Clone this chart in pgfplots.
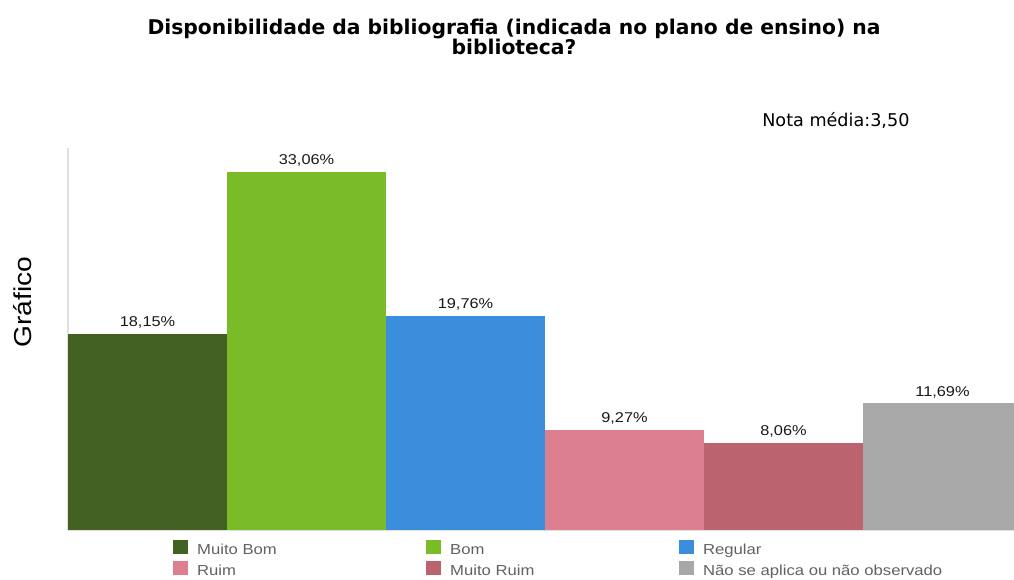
\documentclass[border=0pt]{standalone}
\usepackage{fontspec}
\setmainfont{Liberation Sans}[FakeStretch=1.15]
\newfontfamily\titlefont{DejaVu Sans}
\usepackage{pgfplots}
\pgfplotsset{compat=1.18}
\definecolor{cMB}{RGB}{67,97,34}
\definecolor{cB}{RGB}{121,188,40}
\definecolor{cR}{RGB}{58,142,219}
\definecolor{cRu}{RGB}{220,128,144}
\definecolor{cMR}{RGB}{187,99,111}
\definecolor{cNA}{RGB}{168,168,168}
\begin{document}
\begin{tikzpicture}[x=1pt,y=1pt]
\useasboundingbox (0,0) rectangle (1014,579);
\node[font=\titlefont\bfseries\fontsize{20.3}{17}\selectfont, align=center] at (514,542) {Disponibilidade da bibliografia (indicada no plano de ensino) na\\biblioteca?};
\node[font=\titlefont\fontsize{17.6}{17}\selectfont, anchor=base east] at (913,452) {Nota média:3,50};
\node[font=\fontsize{24.5}{25}\selectfont, rotate=90] at (23,277) {Gráfico};
\begin{axis}[
  at={(68pt,49pt)}, anchor=south west, scale only axis,
  width=954pt, height=382pt,
  ymin=0, ymax=35.3, xmin=-0.5, xmax=5.5,
  axis x line=bottom, axis y line=left,
  axis line style={-, draw=black!12, line width=1.5pt},
  xtick=\empty, ytick=\empty,
  ybar, bar width=1, bar shift=0pt,
  /pgf/number format/assume math mode=true,
  nodes near coords={\pgfmathprintnumber[fixed,fixed zerofill,precision=2,use comma]{\pgfplotspointmeta}\%},
  every node near coord/.append style={font=\fontsize{14.2}{14}\selectfont, text=black!90, yshift=2pt},
  legend columns=3,
  legend style={at={(axis description cs:0.110,-0.026)}, anchor=north west, draw=none, fill=none,
    font=\fontsize{14.5}{14}\selectfont, text=black!62, inner sep=0pt, row sep=3pt,
    nodes={inner sep=0pt, text height=10.5pt, text depth=3.5pt},
    /tikz/every odd column/.append style={column sep=9pt},
    /tikz/every even column/.append style={column sep=0pt}},
  legend cell align=left,
  legend image code/.code={\fill[#1,draw=none] (0pt,-3pt) rectangle (15pt,11pt);},
]
\addplot[fill=cMB, draw=none] coordinates {(0,18.15)};
\addplot[fill=cB, draw=none] coordinates {(1,33.06)};
\addplot[fill=cR, draw=none] coordinates {(2,19.76)};
\addplot[fill=cRu, draw=none] coordinates {(3,9.27)};
\addplot[fill=cMR, draw=none] coordinates {(4,8.06)};
\addplot[fill=cNA, draw=none] coordinates {(5,11.69)};
\legend{\makebox[229pt][l]{Muito Bom},\makebox[229pt][l]{Bom},Regular,\makebox[229pt][l]{Ruim},\makebox[229pt][l]{Muito Ruim},Não se aplica ou não observado}
\end{axis}
\end{tikzpicture}
\end{document}
